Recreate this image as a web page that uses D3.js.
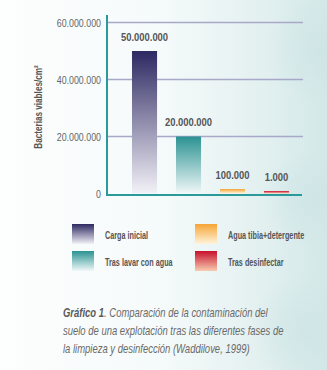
<!DOCTYPE html>
<html lang="es">
<head>
<meta charset="utf-8">
<script src="https://cdn.jsdelivr.net/npm/d3@7"></script>
<style>
  html, body { margin: 0; padding: 0; background: #fff; }
  svg { display: block; }
  text { font-family: 'Liberation Sans', Arial, sans-serif; }
</style>
</head>
<body>
<div id="chart"></div>
<script>
// Bacterial load on a farm floor after each cleaning stage
const categories = ["Carga inicial", "Tras lavar con agua", "Agua tibia+detergente", "Tras desinfectar"];
const values = [50000000, 20000000, 100000, 1000];
const valueLabels = ["50.000.000", "20.000.000", "100.000", "1.000"];
const yTicks = [0, 20000000, 40000000, 60000000];
const yTickLabels = ["0", "20.000.000", "40.000.000", "60.000.000"];
const topColors = ["#2d2962", "#2b9292", "#f6a435", "#c8102e"];
const bottomColors = ["#f3f1f7", "#f1f8f8", "#fff4dc", "#f7cdb0"];
const captionLines = [
  { bold: "Gráfico 1", rest: ". Comparación de la contaminación del" },
  { bold: "", rest: "suelo de una explotación tras las diferentes fases de" },
  { bold: "", rest: "la limpieza y desinfección (Waddilove, 1999)" }
];

const W = 327, H = 370;
const svg = d3.select("#chart").append("svg").attr("width", W).attr("height", H);
const defs = svg.append("defs");

// place a text at (px, py), squeezed horizontally to look like a condensed face
const place = (px, py, k, rot = 0) =>
  `translate(${px},${py})` + (rot ? ` rotate(${rot})` : "") + ` scale(${k},1)`;

// soft teal wash towards the right edge
const bg = defs.append("linearGradient").attr("id", "bg").attr("x1", 0).attr("x2", 1).attr("y1", 0).attr("y2", 0);
bg.append("stop").attr("offset", 0).attr("stop-color", "#fdfefe");
bg.append("stop").attr("offset", 0.5).attr("stop-color", "#f5fafa");
bg.append("stop").attr("offset", 0.8).attr("stop-color", "#e3f0f0");
bg.append("stop").attr("offset", 1).attr("stop-color", "#d3e8e8");
svg.append("rect").attr("width", W).attr("height", H).attr("fill", "url(#bg)");

const glow = defs.append("radialGradient").attr("id", "glow");
glow.append("stop").attr("offset", 0).attr("stop-color", "#cde4e5").attr("stop-opacity", 0.8);
glow.append("stop").attr("offset", 1).attr("stop-color", "#cde4e5").attr("stop-opacity", 0);
[[322, 50, 55], [312, 200, 50], [305, 330, 55]].forEach(([cx, cy, r]) =>
  svg.append("circle").attr("cx", cx).attr("cy", cy).attr("r", r).attr("fill", "url(#glow)"));

// bar gradients
categories.forEach((c, i) => {
  const g = defs.append("linearGradient").attr("id", "g" + i)
    .attr("x1", 0).attr("x2", 0).attr("y1", 0).attr("y2", 1);
  g.append("stop").attr("offset", 0).attr("stop-color", topColors[i]);
  g.append("stop").attr("offset", 1).attr("stop-color", bottomColors[i]);
});

const y = d3.scaleLinear().domain([0, 60000000]).range([193.5, 22.5]);
const x = d3.scaleBand().domain(categories).range([121, 300]).paddingInner(0.43).paddingOuter(0.25);

// gridlines
svg.append("g").selectAll("line").data(yTicks.slice(1)).join("line")
  .attr("x1", 108).attr("x2", 303)
  .attr("y1", d => y(d)).attr("y2", d => y(d))
  .attr("stroke", "#a8a8c8").attr("stroke-width", 1.5);

// y tick labels
svg.append("g").selectAll("text").data(yTicks).join("text")
  .attr("transform", d => place(101, y(d) + 4, 0.77))
  .attr("text-anchor", "end").attr("font-size", 11.5).attr("fill", "#666")
  .text((d, i) => yTickLabels[i]);

// y title
svg.append("text")
  .attr("transform", place(42, 107, 0.71, -90))
  .attr("text-anchor", "middle").attr("font-size", 11.5).attr("font-weight", "bold").attr("fill", "#555")
  .text("Bacterias viables/cm²");

// bars (tiny values kept visible with a minimum height)
const minH = [0, 0, 4.5, 2.5];
const barTop = (d, i) => y(0) - Math.max(y(0) - y(d), minH[i]);
svg.append("g").selectAll("rect").data(values).join("rect")
  .attr("x", (d, i) => x(categories[i]))
  .attr("width", x.bandwidth())
  .attr("y", barTop)
  .attr("height", (d, i) => y(0) - barTop(d, i))
  .attr("fill", (d, i) => "url(#g" + i + ")");

// value labels
svg.append("g").selectAll("text").data(values).join("text")
  .attr("transform", (d, i) => place(x(categories[i]) + x.bandwidth() / 2, barTop(d, i) - 10.5, 0.82))
  .attr("text-anchor", "middle").attr("font-size", 11.5).attr("font-weight", "bold").attr("fill", "#555")
  .text((d, i) => valueLabels[i]);

// axes
svg.append("path").attr("d", "M107,15V195H302")
  .attr("fill", "none").attr("stroke", "#2a9a9a").attr("stroke-width", 2);

// legend
const legPos = [[72, 224], [72, 251], [195, 224], [195, 251]];
const leg = svg.append("g");
categories.forEach((c, i) => {
  const [lx, ly] = legPos[i];
  leg.append("rect").attr("x", lx).attr("y", ly).attr("width", 22).attr("height", 20).attr("fill", "url(#g" + i + ")");
  leg.append("text").attr("transform", place(lx + 33, ly + 14.5, 0.69))
    .attr("font-size", 10.5).attr("font-weight", "bold").attr("fill", "#555").text(c);
});

// caption
const cap = svg.append("g");
captionLines.forEach((l, i) => {
  const t = cap.append("text").attr("transform", place(63, 317 + i * 18, 0.79))
    .attr("font-size", 12).attr("font-style", "italic").attr("fill", "#6a6a6a");
  if (l.bold) t.append("tspan").attr("font-weight", "bold").attr("fill", "#5a5a5a").text(l.bold);
  t.append("tspan").text(l.rest);
});
</script>
</body>
</html>
